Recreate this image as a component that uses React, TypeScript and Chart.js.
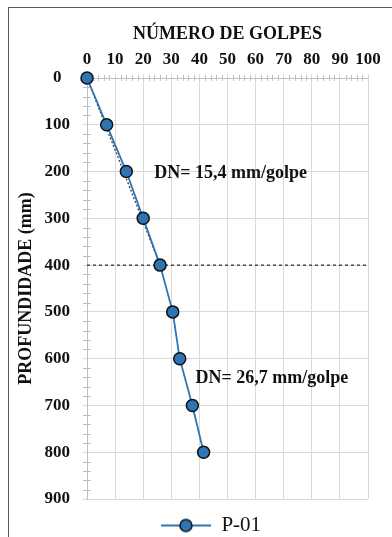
import React, { useEffect, useRef } from "react";
import { Chart, registerables } from "chart.js";

Chart.register(...registerables);

const depths = [0, 100, 200, 300, 400, 500, 600, 700, 800];
const blows = [0, 7, 14, 20, 26, 30.5, 33, 37.5, 41.5];
const trendBlows = [0, 26];
const trendDepths = [0, 400];
const limitDepth = 400;
const xTitle = "NÚMERO DE GOLPES";
const yTitle = "PROFUNDIDADE (mm)";
const seriesName = "P-01";
const notes = [
  { text: "DN= 15,4 mm/golpe", x: 23.9, y: 203 },
  { text: "DN= 26,7 mm/golpe", x: 38.6, y: 641 },
];

const FONT = "'Times New Roman', 'Liberation Serif', serif";
const BLUE = "#2E75B6";

function makeLegendImage(): HTMLCanvasElement {
  const c = document.createElement("canvas");
  c.width = 104;
  c.height = 16;
  const g = c.getContext("2d")!;
  g.strokeStyle = BLUE;
  g.lineWidth = 2;
  g.beginPath();
  g.moveTo(54, 8);
  g.lineTo(104, 8);
  g.stroke();
  g.beginPath();
  g.arc(79, 8, 6, 0, Math.PI * 2);
  g.fillStyle = BLUE;
  g.fill();
  g.lineWidth = 1.5;
  g.strokeStyle = "#111";
  g.stroke();
  return c;
}

const extrasPlugin = {
  id: "extras",
  beforeDatasetsDraw(chart: any) {
    const { ctx, chartArea, scales } = chart;
    const xs = scales.x;
    const ys = scales.y;
    ctx.save();
    ctx.strokeStyle = "#bfbfbf";
    ctx.lineWidth = 1;
    for (let v = 0; v <= 100; v += 2) {
      if (v % 10 === 0) continue;
      const px = Math.round(xs.getPixelForValue(v)) + 0.5;
      ctx.beginPath();
      ctx.moveTo(px, chartArea.top - 3);
      ctx.lineTo(px, chartArea.top + 3);
      ctx.stroke();
    }
    for (let v = 0; v <= 900; v += 20) {
      if (v % 100 === 0) continue;
      const py = Math.round(ys.getPixelForValue(v)) + 0.5;
      ctx.beginPath();
      ctx.moveTo(chartArea.left - 4, py);
      ctx.lineTo(chartArea.left + 4, py);
      ctx.stroke();
    }
    ctx.restore();
  },
  afterDraw(chart: any) {
    const { ctx, scales } = chart;
    const xs = scales.x;
    const ys = scales.y;
    ctx.save();
    ctx.fillStyle = "#111";
    ctx.font = `bold 18px ${FONT}`;
    ctx.textAlign = "left";
    ctx.textBaseline = "middle";
    for (const n of notes) {
      ctx.fillText(n.text, xs.getPixelForValue(n.x), ys.getPixelForValue(n.y));
    }
    ctx.restore();
  },
};

export default function App() {
  const ref = useRef<HTMLCanvasElement>(null);
  useEffect(() => {
    if (!ref.current) return;
    const legendImg = makeLegendImage();
    const chart = new Chart(ref.current, {
      type: "scatter",
      data: {
        datasets: [
          {
            label: seriesName,
            data: blows.map((b, i) => ({ x: b, y: depths[i] })),
            showLine: true,
            clip: false,
            borderColor: BLUE,
            borderWidth: 1.8,
            pointStyle: "circle",
            pointRadius: 6,
            pointBackgroundColor: BLUE,
            pointBorderColor: "#111",
            pointBorderWidth: 1.5,
          },
          {
            label: "trend",
            data: trendBlows.map((b, i) => ({ x: b, y: trendDepths[i] })),
            showLine: true,
            borderColor: "#333",
            borderWidth: 1.2,
            borderDash: [2, 2],
            pointRadius: 0,
          },
          {
            label: "limit",
            data: [
              { x: 0, y: limitDepth },
              { x: 100, y: limitDepth },
            ],
            showLine: true,
            borderColor: "#000",
            borderWidth: 1,
            borderDash: [3, 3],
            pointRadius: 0,
          },
        ],
      },
      options: {
        responsive: false,
        animation: false,
        layout: { padding: { left: 0, top: 0, right: 24, bottom: 0 } },
        plugins: {
          tooltip: { enabled: false },
          legend: {
            position: "bottom",
            labels: {
              usePointStyle: true,
              pointStyleWidth: 104,
              padding: 16,
              color: "#111",
              font: { family: FONT, size: 21 },
              generateLabels: () => [
                {
                  text: seriesName,
                  pointStyle: legendImg,
                  datasetIndex: 0,
                  fontColor: "#111",
                  lineWidth: 0,
                  hidden: false,
                },
              ],
            },
          },
        },
        scales: {
          x: {
            type: "linear",
            position: "top",
            min: 0,
            max: 100,
            afterFit: (s: any) => {
              s.height = 78;
            },
            ticks: {
              stepSize: 10,
              padding: 4,
              autoSkip: false,
              maxRotation: 0,
              minRotation: 0,
              color: "#111",
              font: { family: FONT, size: 17, weight: "bold" },
            },
            grid: { color: "#d9d9d9", tickLength: 4, lineWidth: 1 },
            border: { color: "#bfbfbf" },
            title: {
              display: true,
              text: xTitle,
              color: "#111",
              padding: { top: 24, bottom: 0 },
              font: { family: FONT, size: 18, weight: "bold" },
            },
          },
          y: {
            type: "linear",
            reverse: true,
            min: 0,
            max: 900,
            afterFit: (s: any) => {
              s.width = 87;
            },
            ticks: {
              stepSize: 100,
              padding: 13,
              autoSkip: false,
              crossAlign: "center",
              color: "#111",
              font: { family: FONT, size: 17, weight: "bold" },
            },
            grid: { color: "#d9d9d9", tickLength: 4, lineWidth: 1 },
            border: { color: "#bfbfbf" },
            title: {
              display: true,
              text: yTitle,
              color: "#111",
              padding: { top: 16, bottom: 0 },
              font: { family: FONT, size: 18, weight: "bold" },
            },
          },
        },
      } as any,
      plugins: [extrasPlugin],
    });
    return () => chart.destroy();
  }, []);

  return (
    <div
      style={{
        position: "absolute",
        left: 0,
        top: 0,
        width: 392,
        height: 537,
        overflow: "hidden",
        background: "#fff",
      }}
    >
      <div
        style={{
          position: "absolute",
          left: 8,
          top: 7,
          width: 400,
          height: 560,
          borderTop: "1px solid #595959",
          borderLeft: "1px solid #595959",
        }}
      />
      <canvas
        ref={ref}
        width={392}
        height={546}
        style={{ position: "absolute", left: 0, top: 0 }}
      />
    </div>
  );
}
